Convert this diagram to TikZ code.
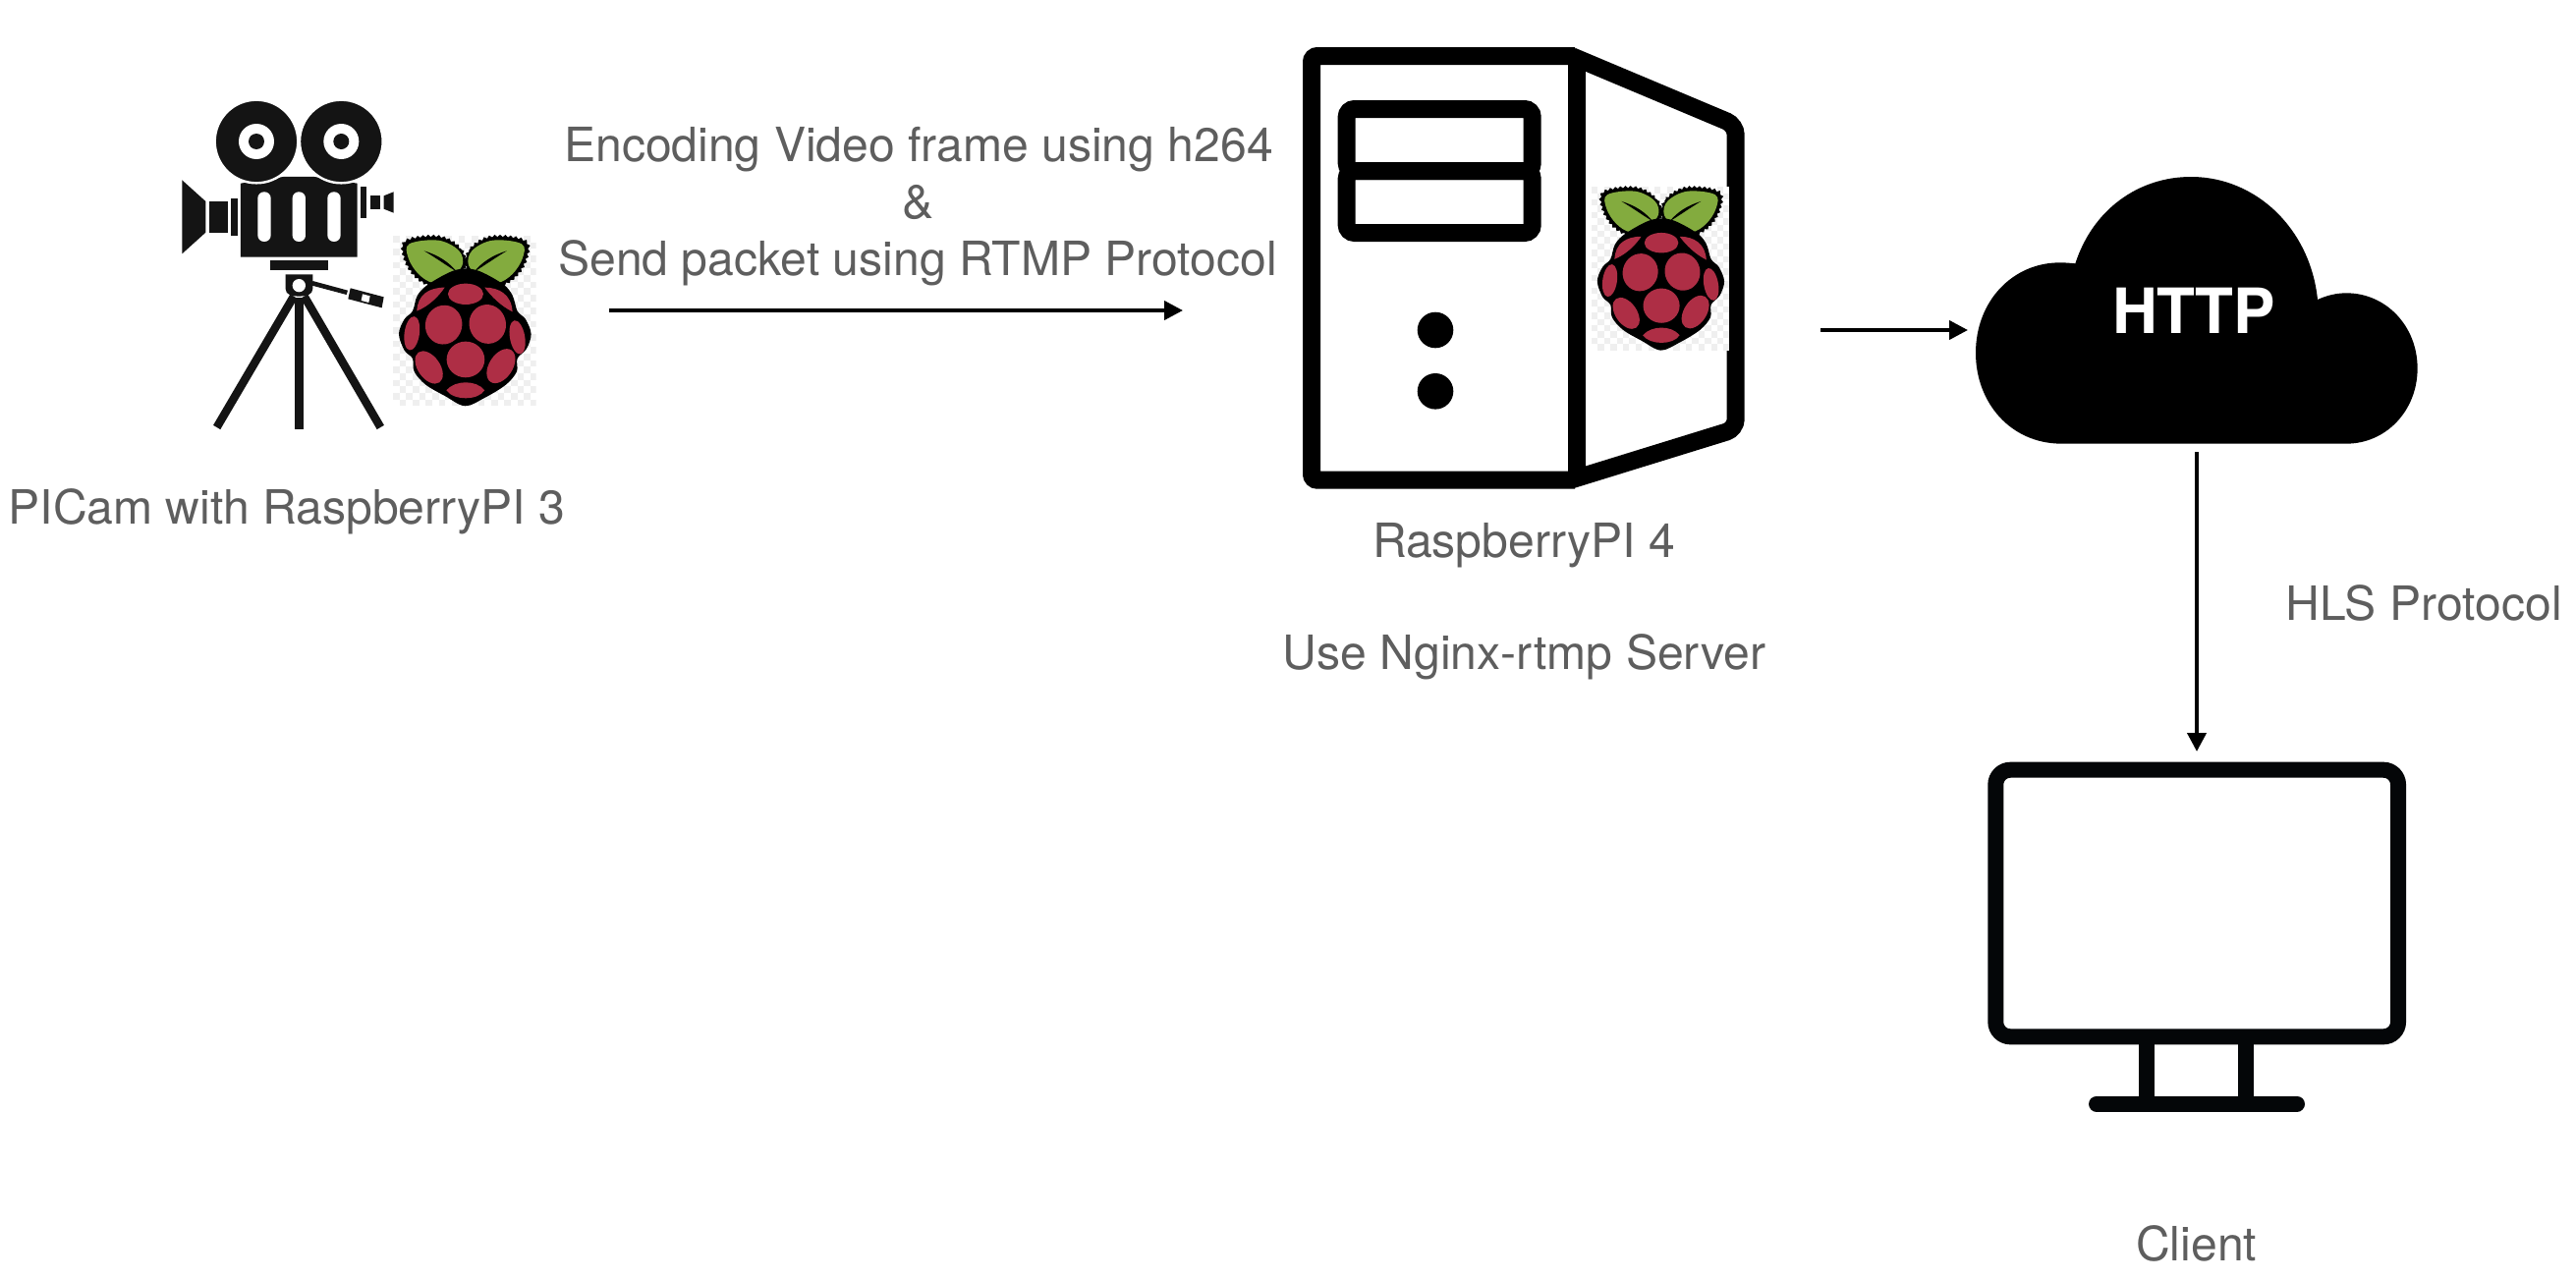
\documentclass[tikz,border=0pt]{standalone}
\usepackage{fontspec}
\setmainfont{TeX Gyre Heros}
\usetikzlibrary{arrows.meta,decorations.pathmorphing}
\definecolor{txtgrey}{HTML}{5E5E5E}
\definecolor{camblack}{HTML}{141414}
\definecolor{monblack}{HTML}{040608}
\definecolor{rasred}{HTML}{AE2E45}
\definecolor{rasgreen}{HTML}{83AB3E}
\definecolor{chk}{HTML}{EFEFEF}
\tikzset{
  label text/.style={text=txtgrey,font=\fontsize{24.05}{28}\selectfont,anchor=base,inner sep=0pt},
  flow/.style={line width=2pt,-{Triangle[length=9.5pt,width=9.5pt]},shorten <=0pt},
  thick black/.style={line width=9pt,draw=black},
  mon line/.style={line width=8pt,draw=monblack},
}
\newcommand\drupe[5]{\fill[rasred,shift={(#1,#2)},rotate=#5] (0,0) ellipse [x radius=#3,y radius=#4];}
\newcommand\raspberry[3]{%
\begin{scope}[shift={(#1,#2)},x=#3*0.5pt,y=-#3*0.5pt]
  \begin{scope}
    \clip (750,510) rectangle (1187,1030);
    \fill[white] (750,510) rectangle (1187,1030);
    \foreach \i in {0,...,21}{\foreach \j in {0,...,25}{
      \pgfmathparse{int(mod(\i+\j,2))}
      \ifnum\pgfmathresult=0
        \fill[chk] (750+\i*20,510+\j*20) rectangle ++(20,20);
      \fi}}
  \end{scope}
  % leaves
  \foreach \m/\c in {1/0,-1/1943}{
    \fill[black,draw=black,line width=#3*2pt,decorate,decoration={zigzag,segment length=#3*8pt,amplitude=#3*1.8pt}]
      plot[smooth cycle,tension=.6] coordinates {({\c+\m*968},605) ({\c+\m*955},550) ({\c+\m*890},514) ({\c+\m*790},527) ({\c+\m*787},580) ({\c+\m*820},634) ({\c+\m*872},662) ({\c+\m*925},647)};
    \fill[rasgreen]
      plot[smooth cycle,tension=.6] coordinates {({\c+\m*962},600) ({\c+\m*951},555) ({\c+\m*888},524) ({\c+\m*800},535) ({\c+\m*797},578) ({\c+\m*828},627) ({\c+\m*874},654) ({\c+\m*924},638)};
    \fill[black] ({\c+\m*845},556) .. controls ({\c+\m*890},570) and ({\c+\m*920},590) .. ({\c+\m*945},620) .. controls ({\c+\m*915},602) and ({\c+\m*885},580) .. ({\c+\m*845},556) -- cycle;
  }
  % body
  \fill[black] plot[smooth cycle,tension=.55] coordinates {(860,657) (825,692) (810,740) (785,765) (768,810) (785,860) (810,885) (815,925) (850,965) (910,1000) (970,1030) (1030,1005) (1095,965) (1128,925) (1130,885) (1158,855) (1172,810) (1155,765) (1130,740) (1115,692) (1085,657) (1005,615) (940,615)};
  % drupelets
  \drupe{972}{688}{54}{32}{0}
  \drupe{905}{782}{56}{60}{-15}
  \drupe{1039}{780}{56}{60}{15}
  \drupe{972}{888}{58}{55}{0}
  \drupe{808}{808}{23}{52}{-8}
  \drupe{1130}{820}{23}{52}{10}
  \drupe{860}{912}{34}{56}{35}
  \drupe{1080}{908}{36}{58}{-33}
  \fill[rasred] (913,982) .. controls (940,950) and (1005,950) .. (1030,982) .. controls (1010,1014) and (935,1014) .. (913,982) -- cycle;
  \fill[rasred] (908,668) .. controls (860,668) and (825,690) .. (823,740) .. controls (860,725) and (890,695) .. (908,668) -- cycle;
  \fill[rasred] (1030,668) .. controls (1075,668) and (1112,690) .. (1115,742) .. controls (1080,725) and (1050,695) .. (1030,668) -- cycle;
\end{scope}}
\begin{document}
\begin{tikzpicture}[x=0.5pt,y=-0.5pt]
\useasboundingbox (0,0) rectangle (2622,1302);
\fill[white] (0,0) rectangle (2622,1302);

% ---------- film camera
\begin{scope}[shift={(150,70)},x=0.5pt/3,y=-0.5pt/3]
  \fill[camblack] (285,350) -- (415,330) -- (510,330) -- (641,350) -- (641,575) -- (285,575) -- cycle;
  \foreach \cx in {333,592}{
    \fill[camblack,draw=white,line width=1.2pt] (\cx,222) circle (127);
    \fill[white] (\cx,222) circle (54);
    \fill[camblack] (\cx,222) circle (24);
  }
  \foreach \sx in {357,463,570}{
    \fill[white,rounded corners=3.2pt] (\sx-20,376) rectangle (\sx+20,528);
  }
  \fill[camblack] (106,340) -- (178,405) -- (178,500) -- (106,565) -- cycle;
  \fill[camblack] (189,405) rectangle (245,500);
  \fill[camblack] (255,395) rectangle (275,510);
  \fill[camblack] (652,360) rectangle (668,457);
  \fill[camblack] (680,388) rectangle (712,430);
  \fill[camblack] (722,388) -- (752,376) -- (752,440) -- (722,428) -- cycle;
  \fill[camblack] (376,586) rectangle (551,616);
  \fill[camblack] (422,628) -- (505,628) -- (505,672) .. controls (505,690) and (485,695) .. (463,695) .. controls (441,695) and (422,690) .. (422,672) -- cycle;
  \fill[white] (463,662) circle (20);
  \fill[camblack] (505,648) -- (612,677) -- (608,690) -- (503,662) -- cycle;
  \fill[camblack] (620,670) -- (722,697) -- (716,730) -- (613,703) -- cycle;
  \fill[white] (657,688) -- (680,694) -- (676,714) -- (653,708) -- cycle;
  \draw[camblack,line width=4.2pt] (447,695) -- (212,1095);
  \draw[camblack,line width=4.2pt] (479,695) -- (712,1095);
  \fill[camblack] (450,700) rectangle (477,1100);
\end{scope}
\raspberry{150}{70}{0.3333}

% ---------- server
\draw[thick black,rounded corners=3pt] (1603,57) -- (1335,57) -- (1335,488.7) -- (1603,488.7);
\draw[thick black,rounded corners=5pt] (1600,57.2) -- (1766.7,127.3) -- (1766.7,436.7) -- (1600,488.2);
\draw[thick black] (1605,62) -- (1605,484);
\draw[thick black,rounded corners=4pt] (1370.7,111) rectangle (1559.7,174);
\draw[thick black,rounded corners=4pt] (1370.7,174) rectangle (1559.7,237);
\fill[black] (1461,336) circle (18.3);
\fill[black] (1461,398.3) circle (18.3);
\raspberry{1380}{27}{0.32}

% ---------- cloud
\begin{scope}[shift={(1980,150)},x=0.5pt/3,y=-0.5pt/3]
  \fill[black] (355,905) .. controls (200,905) and (93,780) .. (93,628) .. controls (93,470) and (205,352) .. (350,352) .. controls (365,352) and (380,353) .. (397,355) .. controls (450,190) and (590,90) .. (750,90) .. controls (950,90) and (1115,250) .. (1137,465) .. controls (1165,452) and (1195,445) .. (1225,445) .. controls (1345,445) and (1442,545) .. (1442,675) .. controls (1442,805) and (1345,905) .. (1225,905) -- cycle;
\end{scope}
\node[text=white,font=\fontsize{31.8}{36}\selectfont\bfseries,anchor=base,inner sep=0pt] (http) at (2233,339.5) {HTTP};

% ---------- monitor
\draw[mon line,rounded corners=7.5pt] (2031.3,783.7) rectangle (2441,1055.3);
\draw[mon line] (2185.3,1055.3) -- (2185.3,1123.7);
\draw[mon line] (2286.3,1055.3) -- (2286.3,1123.7);
\draw[mon line,line cap=round] (2134,1123.7) -- (2338,1123.7);

% ---------- connectors
\coordinate (camOut) at (620,316);
\coordinate (serverIn) at (1204,316);
\coordinate (serverOut) at (1853,336);
\coordinate (cloudIn) at (2003,336);
\coordinate (cloudOut) at (2236,460);
\coordinate (clientIn) at (2236,765);
\draw[flow] (camOut) -- (serverIn);
\draw[flow] (serverOut) -- (cloudIn);
\draw[flow] (cloudOut) -- (clientIn);

% ---------- labels
\node[label text] (l1) at (935,164) {Encoding Video frame using h264};
\node[label text] (l2) at (935,222.5) {\&};
\node[label text] (l3) at (934,280) {Send packet using RTMP Protocol};
\node[label text] (l4) at (292,533.5) {PICam with RaspberryPI 3};
\node[label text] (l5) at (1551,567.5) {RaspberryPI 4};
\node[label text] (l6) at (1551.5,681.5) {Use Nginx-rtmp Server};
\node[label text] (l7) at (2467,631.5) {HLS Protocol};
\node[label text] (l8) at (2235.7,1283) {Client};
\end{tikzpicture}
\end{document}
